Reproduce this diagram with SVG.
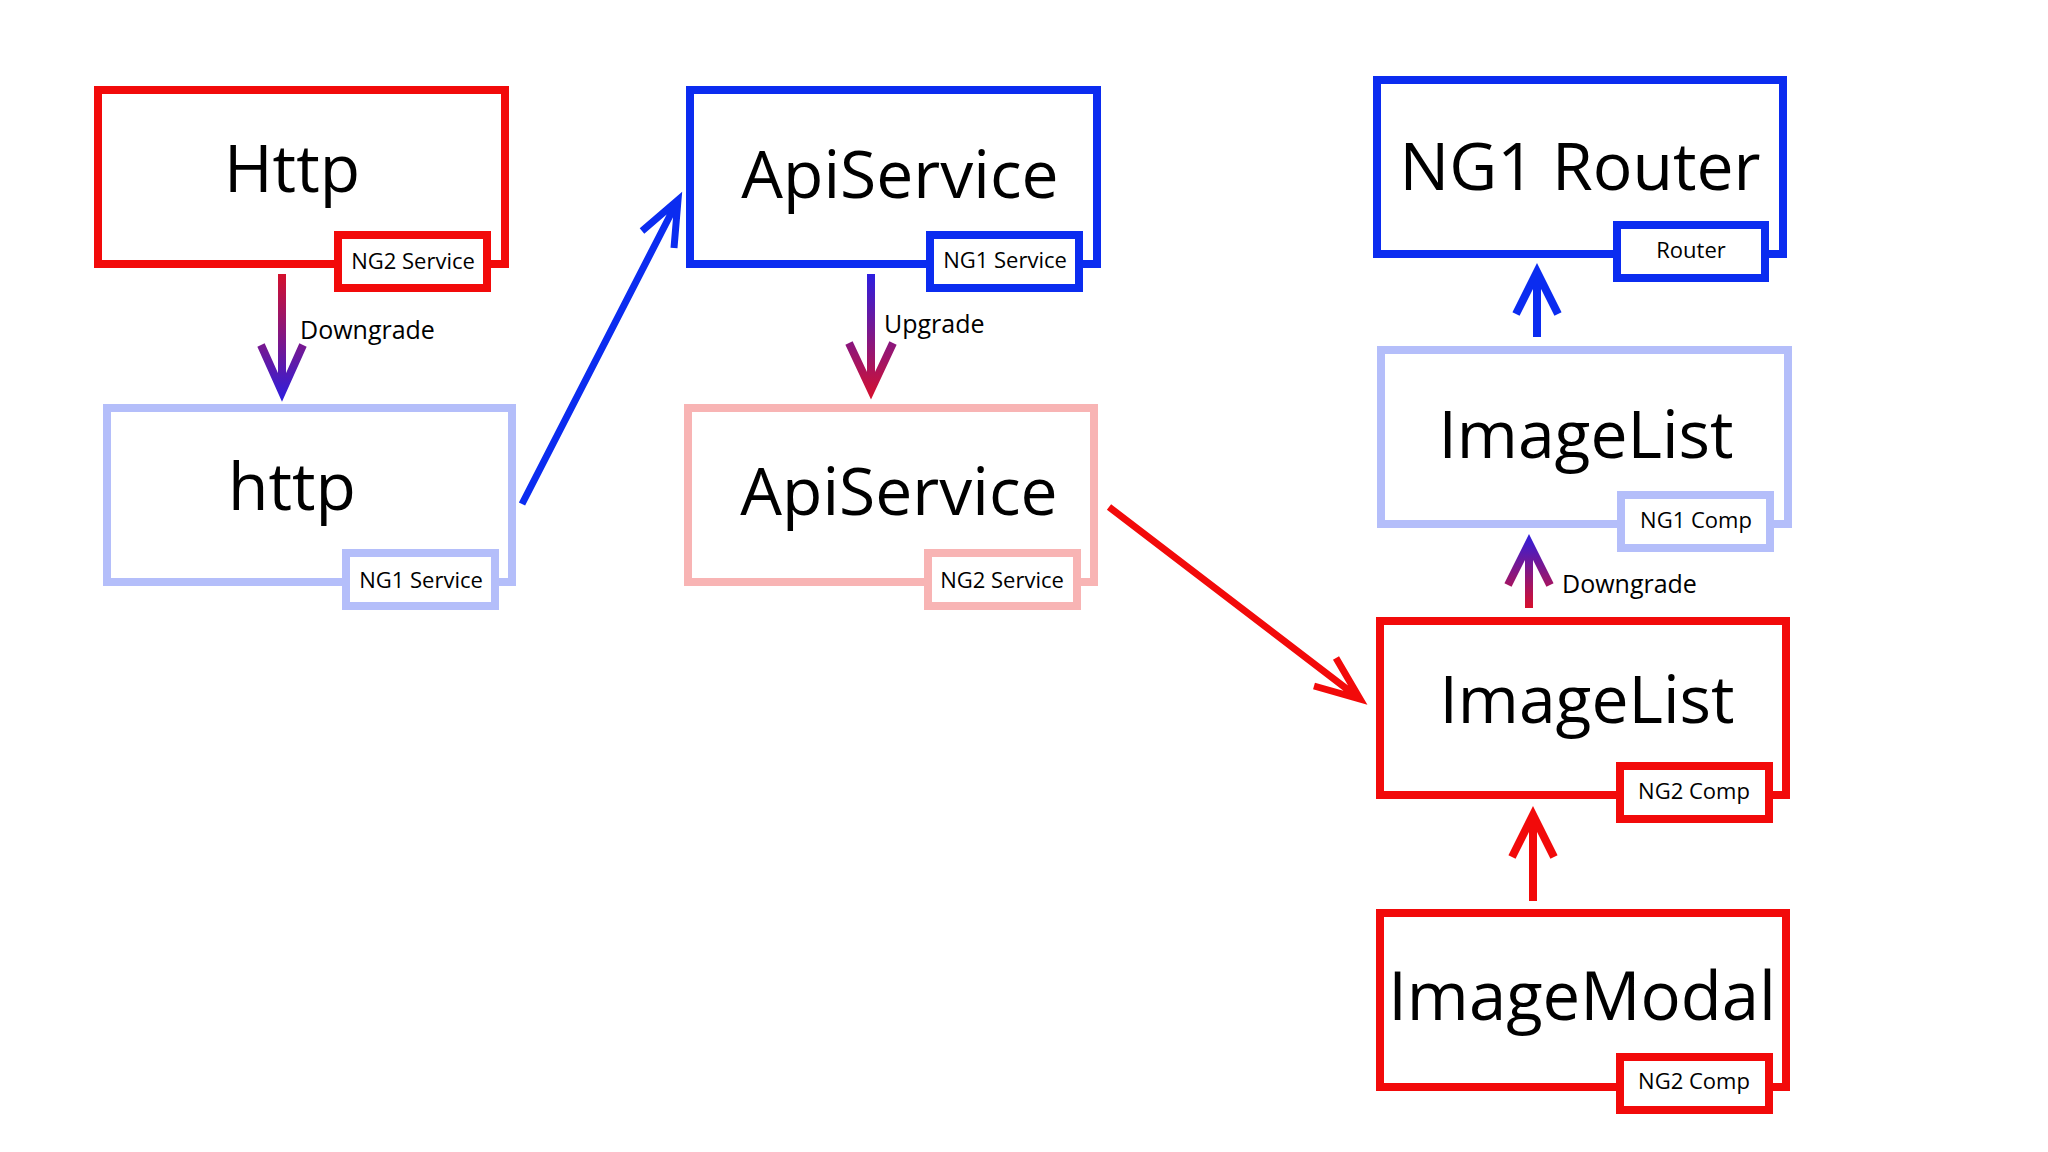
<svg xmlns="http://www.w3.org/2000/svg" width="2048" height="1152" viewBox="0 0 2048 1152">
  <defs>
    <linearGradient id="gDownL" gradientUnits="userSpaceOnUse" x1="0" y1="274" x2="0" y2="402">
      <stop offset="0" stop-color="#d4102c"/>
      <stop offset="1" stop-color="#2c1ee0"/>
    </linearGradient>
    <linearGradient id="gUp" gradientUnits="userSpaceOnUse" x1="0" y1="274" x2="0" y2="400">
      <stop offset="0" stop-color="#2c1ee0"/>
      <stop offset="1" stop-color="#d8102c"/>
    </linearGradient>
    <linearGradient id="gDownR" gradientUnits="userSpaceOnUse" x1="0" y1="608" x2="0" y2="533">
      <stop offset="0" stop-color="#d8102c"/>
      <stop offset="1" stop-color="#2c1ee0"/>
    </linearGradient>
    <style>
      .box { fill: #ffffff; stroke-width: 8; }
      .badge { fill: #ffffff; stroke-width: 8; }
      .red { stroke: #f20a0a; }
      .blue { stroke: #0b2cf0; }
      .lblue { stroke: #b4befa; }
      .pink { stroke: #f8b4b4; }
      .title { font-family: "Open Sans", "Liberation Sans", sans-serif; font-size: 66px; fill: #000; text-anchor: middle; }
      .tag { font-family: "Open Sans", "Liberation Sans", sans-serif; font-size: 22px; fill: #000; text-anchor: middle; }
      .lbl { font-family: "Open Sans", "Liberation Sans", sans-serif; font-size: 25px; fill: #000; }
      .arr { fill: none; stroke-width: 7; stroke-linejoin: miter; stroke-miterlimit: 10; stroke-linecap: butt; }
      .varr { stroke-width: 8; }
    </style>
  </defs>
  <rect x="0" y="0" width="2048" height="1152" fill="#ffffff"/>

  <g id="node-http-ng2">
    <rect class="box red" x="98" y="90" width="407" height="174"/>
    <text class="title" x="292" y="192">Http</text>
    <rect class="badge red" x="338" y="235" width="149" height="53"/>
    <text class="tag" x="413" y="269">NG2 Service</text>
  </g>

  <g id="node-http-ng1">
    <rect class="box lblue" x="107" y="408" width="405" height="174"/>
    <text class="title" x="292" y="510">http</text>
    <rect class="badge lblue" x="346" y="553" width="149" height="53"/>
    <text class="tag" x="421" y="588">NG1 Service</text>
  </g>

  <g id="node-apiservice-ng1">
    <rect class="box blue" x="690" y="90" width="407" height="174"/>
    <text class="title" x="900" y="198">ApiService</text>
    <rect class="badge blue" x="930" y="235" width="149" height="53"/>
    <text class="tag" x="1005" y="268">NG1 Service</text>
  </g>

  <g id="node-apiservice-ng2">
    <rect class="box pink" x="688" y="408" width="406" height="174"/>
    <text class="title" x="899" y="515">ApiService</text>
    <rect class="badge pink" x="928" y="553" width="149" height="53"/>
    <text class="tag" x="1002" y="588">NG2 Service</text>
  </g>

  <g id="node-ng1-router">
    <rect class="box blue" x="1377" y="80" width="406" height="174"/>
    <text class="title" x="1580" y="190">NG1 Router</text>
    <rect class="badge blue" x="1617" y="225" width="148" height="53"/>
    <text class="tag" x="1691" y="258">Router</text>
  </g>

  <g id="node-imagelist-ng1">
    <rect class="box lblue" x="1381" y="350" width="407" height="174"/>
    <text class="title" x="1586" y="458">ImageList</text>
    <rect class="badge lblue" x="1621" y="495" width="149" height="53"/>
    <text class="tag" x="1696" y="528">NG1 Comp</text>
  </g>

  <g id="node-imagelist-ng2">
    <rect class="box red" x="1380" y="621" width="406" height="174"/>
    <text class="title" x="1587" y="723">ImageList</text>
    <rect class="badge red" x="1620" y="766" width="149" height="53"/>
    <text class="tag" x="1694" y="799">NG2 Comp</text>
  </g>

  <g id="node-imagemodal">
    <rect class="box red" x="1380" y="913" width="406" height="174"/>
    <text class="title" x="1582" y="1020" style="font-size:67px">ImageModal</text>
    <rect class="badge red" x="1620" y="1057" width="149" height="53"/>
    <text class="tag" x="1694" y="1089">NG2 Comp</text>
  </g>

  <g id="connectors">
    <path class="arr varr" stroke="url(#gDownL)" d="M282 274 L282 392 M261 345 L282 392 L303 345"/>
    <text class="lbl" x="300" y="339">Downgrade</text>

    <path class="arr" stroke="#0b2cf0" d="M522 504 L678 200 M642 231 L678 200 L674 248"/>

    <path class="arr varr" stroke="url(#gUp)" d="M871 274 L871 390 M849 343 L871 390 L893 343"/>
    <text class="lbl" x="884" y="333">Upgrade</text>

    <path class="arr" stroke="#f20a0a" d="M1109 507 L1360 699 M1336 658 L1360 699 L1314 686"/>

    <path class="arr varr" stroke="#0b2cf0" d="M1537 337 L1537 272 M1516 314 L1537 272 L1558 314"/>

    <path class="arr varr" stroke="url(#gDownR)" d="M1529 608 L1529 543 M1508 585 L1529 543 L1550 585"/>
    <text class="lbl" x="1562" y="593">Downgrade</text>

    <path class="arr varr" stroke="#f20a0a" d="M1533 901 L1533 815 M1512 857 L1533 815 L1554 857"/>
  </g>
</svg>
